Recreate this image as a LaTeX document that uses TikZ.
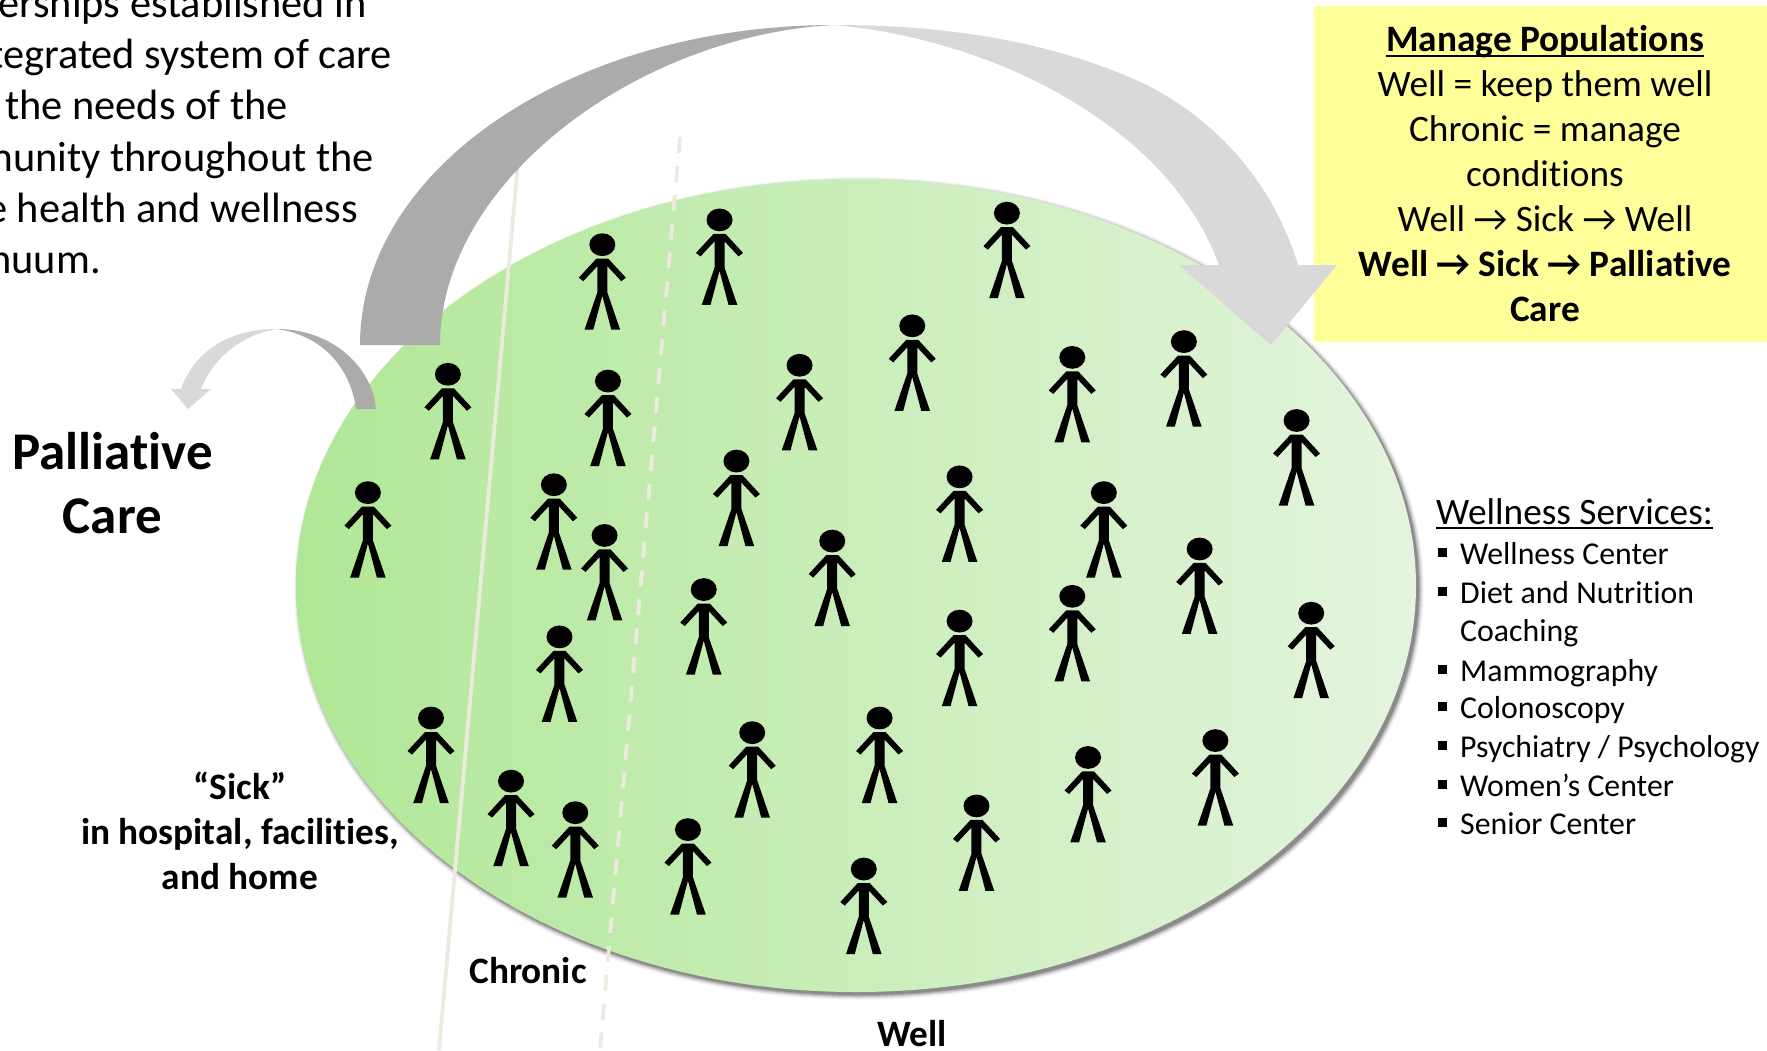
\documentclass[tikz,border=0pt]{standalone}
\usepackage{fontspec}
\setmainfont{Carlito}[Ligatures=NoCommon]
\definecolor{gleft}{HTML}{B0E796}
\definecolor{gright}{HTML}{E4F4DE}
\definecolor{darkarc}{HTML}{ABABAB}
\definecolor{lightarc}{HTML}{D9D9D9}
\definecolor{boxyellow}{HTML}{FFFF99}
\definecolor{divider}{HTML}{ECEADF}
\tikzset{
  intro/.style={anchor=base east,inner sep=0pt,font=\fontsize{42.4}{46}\selectfont},
  label/.style={inner sep=0pt,font=\fontsize{37.3}{45}\selectfont\bfseries,align=center},
  item/.style={anchor=base west,inner sep=0pt,font=\fontsize{31.8}{34}\selectfont},
  divline/.style={draw=divider,line width=3.8pt},
}
\newcommand{\bul}[1]{\fill (1438,#1-16.5) rectangle ++(9,9);}
\newcommand{\ulin}[1]{\setbox0\hbox{#1}\rlap{\raisebox{-5pt}{\rule{\wd0}{2pt}}}\box0}
\begin{document}
\begin{tikzpicture}[x=1pt,y=-1pt]
\useasboundingbox (0,0) rectangle (1767,1050);
\clip (0,0) rectangle (1767,1050);
\fill[white] (0,0) rectangle (1767,1050);
% shadow
\foreach \d/\o in {10/0.03,8/0.05,6/0.07,4/0.1,2/0.14,0/0.16}
  \fill[black,opacity=\o] (859,588.5) ellipse [x radius={560+\d*0.5},y radius={406.5+\d*0.5}];
\shade[left color=gleft,right color=gright] (856,585.5) ellipse [x radius=560,y radius=406.5];
% dividers
\draw[divline] (518,163) -- (439,1050);
\draw[divline,dash pattern=on 16pt off 13pt] (680,137) -- (600,1050);
% people
\foreach \x/\y in {534/218,638/196,893/190,809/290,709/325,951/318,1050/304,397/333,539/339,1150/374,326/438,491/431,653/410,851/424,979/438,536/476,738/481,1064/488,624/524,951/530,851/552,1163/545,496/566,382/638,780/638,667/651,1078/658,965/673,453/694,510/722,866/716,610/737,766/772}{
\begin{scope}[shift={({1.127*\x+0.5},{1.127*\y-1})}]
  \fill[black] (0,0) ellipse [x radius=13,y radius=11.4];
  \fill[black] (-5,14) -- (5,14) -- (6,14) -- (23.5,33) -- (19,36.5) -- (5,21.5) -- (5,47.7) -- (17.8,85) -- (9,85) -- (0,51) -- (-9,85) -- (-17.8,85) -- (-5,47.7) -- (-5,21.5) -- (-19,36.5) -- (-23.5,33) -- (-6,14) -- cycle;
\end{scope}}
% yellow box
\fill[boxyellow] (1314,6) rectangle (1767,342);
\node[inner sep=0pt,align=center,font=\fontsize{37.3}{45}\selectfont] (pop) at (1545,174) {\textbf{\ulin{Manage Populations}}\\Well = keep them well\\Chronic = manage\\conditions\\Well → Sick → Well\\\textbf{Well → Sick → Palliative}\\\textbf{Care}};
% big arrow
\fill[darkarc] (360,345) arc [start angle=180,end angle=270,x radius=474,y radius=320] .. controls (640,35) and (440,180) .. (440,345) -- cycle;
\fill[lightarc] (834,25) .. controls (960,25) and (1060,45) .. (1145,84) .. controls (1225,125) and (1275,190) .. (1298,265) -- (1337,265) -- (1271,345) -- (1179,265) -- (1219,265) .. controls (1170,130) and (1000,40) .. (834,25) -- cycle;
% small arrow
\fill[darkarc] (376,409) .. controls (372,365) and (330,329) .. (277,329) .. controls (320,335) and (350,365) .. (356,409) -- cycle;
\fill[lightarc] (277,329) .. controls (230,329) and (195,350) .. (181,389) -- (171,389) -- (188,409) -- (211,389) -- (201,389) .. controls (212,360) and (240,335) .. (277,329) -- cycle;
% intro text
\node[intro] (t1) at (367,17) {erships established in};
\node[intro] (t2) at (392,68) {tegrated system of care};
\node[intro] (t3) at (288,119) {the needs of the};
\node[intro] (t4) at (374,171) {munity throughout the};
\node[intro] (t5) at (358,222) {e health and wellness};
\node[intro] (t6) at (101,273) {nuum.};
% labels
\node[label,font=\fontsize{53}{64}\selectfont\bfseries] (pal) at (112.5,483) {Palliative\\Care};
\node[label] (sick) at (240,831) {“Sick”\\in hospital, facilities,\\and home};
\node[label,anchor=base] (chronic) at (528,983) {Chronic};
\node[label,anchor=base] (well) at (912,1046) {Well};
% wellness
\node[anchor=base west,inner sep=0pt,font=\fontsize{37.3}{40}\selectfont] (ws) at (1436,524) {\ulin{Wellness Services:}};
\bul{564}\node[item] (i1) at (1460,564) {Wellness Center};
\bul{603}\node[item] (i2) at (1460,603) {Diet and Nutrition};
\node[item] (i2b) at (1460,641) {Coaching};
\bul{681}\node[item] (i3) at (1460,681) {Mammography};
\bul{718}\node[item] (i4) at (1460,718) {Colonoscopy};
\bul{757}\node[item] (i5) at (1460,757) {Psychiatry / Psychology};
\bul{796}\node[item] (i6) at (1460,796) {Women’s Center};
\bul{834}\node[item] (i7) at (1460,834) {Senior Center};
\end{tikzpicture}
\end{document}
